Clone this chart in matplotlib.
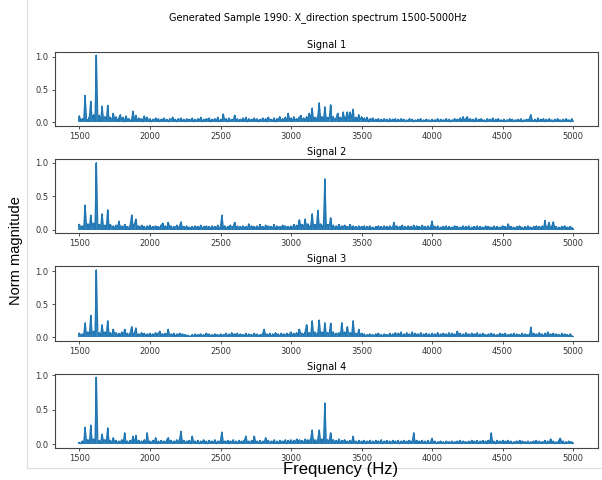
import numpy as np
import matplotlib
matplotlib.use("Agg")
import matplotlib.pyplot as plt
from matplotlib.lines import Line2D

# Spectrum samples every 10 Hz from 1500 to 5000 Hz (one row = 250 Hz)
step_hz = 10
start_hz = 1500

signal1 = [
    0.10, 0.02, 0.06, 0.03, 0.41, 0.05, 0.02, 0.08, 0.32, 0.04, 0.12, 0.03, 1.02, 0.05, 0.11, 0.02, 0.25, 0.06, 0.09, 0.03, 0.26, 0.05, 0.08, 0.02, 0.14,
    0.04, 0.09, 0.02, 0.07, 0.12, 0.03, 0.08, 0.01, 0.10, 0.04, 0.06, 0.02, 0.05, 0.17, 0.03, 0.11, 0.02, 0.07, 0.04, 0.06, 0.01, 0.10, 0.03, 0.08, 0.02,
    0.06, 0.01, 0.05, 0.03, 0.07, 0.02, 0.06, 0.01, 0.05, 0.04, 0.07, 0.02, 0.05, 0.01, 0.06, 0.03, 0.08, 0.02, 0.05, 0.01, 0.06, 0.03, 0.07, 0.02, 0.05,
    0.01, 0.06, 0.02, 0.05, 0.03, 0.07, 0.01, 0.05, 0.02, 0.06, 0.03, 0.08, 0.01, 0.05, 0.02, 0.06, 0.04, 0.07, 0.01, 0.05, 0.03, 0.06, 0.02, 0.08, 0.01,
    0.05, 0.02, 0.13, 0.03, 0.06, 0.01, 0.07, 0.02, 0.05, 0.03, 0.11, 0.02, 0.06, 0.01, 0.05, 0.03, 0.07, 0.02, 0.08, 0.01, 0.06, 0.03, 0.05, 0.02, 0.07,
    0.02, 0.06, 0.01, 0.05, 0.03, 0.07, 0.02, 0.06, 0.01, 0.08, 0.03, 0.05, 0.02, 0.07, 0.01, 0.06, 0.04, 0.09, 0.02, 0.06, 0.03, 0.08, 0.02, 0.14, 0.04,
    0.07, 0.02, 0.09, 0.03, 0.06, 0.02, 0.08, 0.11, 0.03, 0.07, 0.02, 0.09, 0.04, 0.14, 0.05, 0.22, 0.03, 0.08, 0.04, 0.10, 0.30, 0.05, 0.09, 0.03, 0.24,
    0.04, 0.08, 0.03, 0.27, 0.05, 0.09, 0.03, 0.07, 0.14, 0.04, 0.08, 0.03, 0.16, 0.05, 0.09, 0.16, 0.04, 0.16, 0.06, 0.20, 0.03, 0.08, 0.04, 0.12, 0.03,
    0.09, 0.02, 0.07, 0.03, 0.08, 0.01, 0.06, 0.04, 0.07, 0.02, 0.05, 0.03, 0.06, 0.01, 0.05, 0.02, 0.06, 0.03, 0.05, 0.01, 0.06, 0.02, 0.05, 0.03, 0.06,
    0.01, 0.05, 0.02, 0.06, 0.03, 0.05, 0.01, 0.04, 0.02, 0.06, 0.03, 0.05, 0.01, 0.04, 0.02, 0.05, 0.03, 0.06, 0.01, 0.04, 0.02, 0.05, 0.03, 0.04, 0.01,
    0.05, 0.02, 0.04, 0.03, 0.06, 0.01, 0.05, 0.02, 0.04, 0.03, 0.06, 0.02, 0.05, 0.01, 0.04, 0.03, 0.06, 0.02, 0.05, 0.03, 0.07, 0.02, 0.09, 0.03, 0.06,
    0.09, 0.02, 0.06, 0.03, 0.05, 0.01, 0.07, 0.02, 0.05, 0.03, 0.06, 0.02, 0.04, 0.01, 0.06, 0.03, 0.05, 0.02, 0.07, 0.01, 0.05, 0.03, 0.06, 0.02, 0.04,
    0.02, 0.05, 0.01, 0.04, 0.03, 0.06, 0.02, 0.05, 0.01, 0.04, 0.03, 0.05, 0.02, 0.06, 0.01, 0.04, 0.03, 0.05, 0.02, 0.06, 0.12, 0.04, 0.02, 0.05, 0.01,
    0.07, 0.02, 0.05, 0.03, 0.06, 0.01, 0.05, 0.02, 0.06, 0.03, 0.04, 0.01, 0.05, 0.02, 0.06, 0.03, 0.04, 0.01, 0.05, 0.02, 0.06, 0.03, 0.04, 0.01, 0.06,
    0.02,
]

signal2 = [
    0.08, 0.03, 0.06, 0.02, 0.37, 0.05, 0.09, 0.03, 0.22, 0.06, 0.10, 0.02, 1.00, 0.04, 0.08, 0.03, 0.24, 0.05, 0.07, 0.02, 0.30, 0.04, 0.08, 0.03, 0.06,
    0.02, 0.07, 0.04, 0.13, 0.03, 0.06, 0.01, 0.08, 0.03, 0.05, 0.02, 0.07, 0.22, 0.04, 0.09, 0.16, 0.03, 0.06, 0.02, 0.07, 0.04, 0.05, 0.01, 0.06, 0.03,
    0.07, 0.02, 0.05, 0.03, 0.06, 0.01, 0.05, 0.02, 0.07, 0.10, 0.03, 0.06, 0.02, 0.11, 0.04, 0.06, 0.01, 0.05, 0.03, 0.07, 0.02, 0.06, 0.12, 0.03, 0.05,
    0.02, 0.06, 0.01, 0.04, 0.02, 0.05, 0.01, 0.06, 0.03, 0.05, 0.02, 0.07, 0.01, 0.05, 0.03, 0.06, 0.02, 0.05, 0.01, 0.06, 0.03, 0.05, 0.02, 0.07, 0.01,
    0.05, 0.22, 0.03, 0.06, 0.01, 0.05, 0.02, 0.07, 0.03, 0.05, 0.11, 0.02, 0.06, 0.01, 0.05, 0.03, 0.06, 0.02, 0.05, 0.01, 0.09, 0.03, 0.06, 0.02, 0.05,
    0.02, 0.06, 0.01, 0.08, 0.03, 0.05, 0.02, 0.07, 0.01, 0.06, 0.03, 0.05, 0.02, 0.08, 0.01, 0.06, 0.03, 0.05, 0.02, 0.07, 0.01, 0.06, 0.03, 0.05, 0.02,
    0.06, 0.02, 0.08, 0.03, 0.07, 0.02, 0.15, 0.04, 0.08, 0.03, 0.16, 0.05, 0.09, 0.03, 0.07, 0.24, 0.04, 0.08, 0.03, 0.29, 0.05, 0.09, 0.04, 0.07, 0.76,
    0.05, 0.08, 0.03, 0.18, 0.04, 0.07, 0.02, 0.06, 0.03, 0.08, 0.02, 0.06, 0.04, 0.07, 0.02, 0.05, 0.03, 0.08, 0.02, 0.06, 0.03, 0.05, 0.01, 0.06, 0.03,
    0.05, 0.02, 0.06, 0.01, 0.05, 0.03, 0.06, 0.02, 0.04, 0.01, 0.05, 0.03, 0.06, 0.02, 0.05, 0.01, 0.06, 0.03, 0.05, 0.02, 0.06, 0.03, 0.04, 0.11, 0.03,
    0.06, 0.02, 0.05, 0.03, 0.07, 0.01, 0.05, 0.02, 0.06, 0.03, 0.05, 0.02, 0.07, 0.01, 0.06, 0.03, 0.05, 0.02, 0.07, 0.03, 0.05, 0.01, 0.06, 0.02, 0.05,
    0.13, 0.03, 0.05, 0.02, 0.06, 0.01, 0.04, 0.02, 0.05, 0.03, 0.06, 0.01, 0.05, 0.02, 0.04, 0.03, 0.06, 0.02, 0.05, 0.01, 0.04, 0.03, 0.06, 0.02, 0.05,
    0.02, 0.06, 0.01, 0.04, 0.03, 0.05, 0.02, 0.06, 0.01, 0.05, 0.03, 0.04, 0.02, 0.06, 0.01, 0.05, 0.03, 0.04, 0.02, 0.06, 0.01, 0.05, 0.02, 0.04, 0.03,
    0.06, 0.02, 0.05, 0.01, 0.09, 0.03, 0.05, 0.02, 0.04, 0.01, 0.05, 0.03, 0.06, 0.02, 0.04, 0.01, 0.05, 0.02, 0.06, 0.03, 0.04, 0.01, 0.05, 0.02, 0.06,
    0.03, 0.05, 0.02, 0.06, 0.01, 0.14, 0.03, 0.05, 0.11, 0.02, 0.06, 0.12, 0.03, 0.05, 0.01, 0.04, 0.02, 0.05, 0.03, 0.06, 0.01, 0.04, 0.02, 0.05, 0.03,
    0.02,
]

signal3 = [
    0.06, 0.02, 0.05, 0.03, 0.22, 0.04, 0.08, 0.02, 0.33, 0.05, 0.09, 0.03, 1.02, 0.04, 0.07, 0.02, 0.19, 0.05, 0.08, 0.03, 0.25, 0.04, 0.07, 0.02, 0.12,
    0.04, 0.07, 0.02, 0.06, 0.03, 0.08, 0.02, 0.12, 0.04, 0.06, 0.02, 0.07, 0.16, 0.03, 0.06, 0.14, 0.02, 0.05, 0.03, 0.07, 0.01, 0.06, 0.02, 0.05, 0.03,
    0.06, 0.02, 0.05, 0.03, 0.07, 0.02, 0.06, 0.09, 0.03, 0.05, 0.02, 0.06, 0.03, 0.12, 0.02, 0.05, 0.03, 0.06, 0.01, 0.05, 0.03, 0.06, 0.02, 0.05, 0.03,
    0.04, 0.02, 0.03, 0.01, 0.02, 0.04, 0.01, 0.05, 0.02, 0.04, 0.03, 0.05, 0.01, 0.04, 0.02, 0.06, 0.03, 0.05, 0.01, 0.04, 0.02, 0.05, 0.03, 0.04, 0.01,
    0.05, 0.02, 0.04, 0.03, 0.06, 0.01, 0.05, 0.02, 0.07, 0.03, 0.05, 0.02, 0.06, 0.01, 0.05, 0.03, 0.04, 0.02, 0.06, 0.01, 0.05, 0.03, 0.04, 0.02, 0.06,
    0.02, 0.05, 0.01, 0.04, 0.03, 0.06, 0.12, 0.03, 0.05, 0.02, 0.06, 0.01, 0.05, 0.03, 0.07, 0.02, 0.05, 0.01, 0.06, 0.03, 0.05, 0.02, 0.06, 0.03, 0.05,
    0.08, 0.02, 0.06, 0.03, 0.07, 0.02, 0.12, 0.04, 0.06, 0.03, 0.08, 0.19, 0.04, 0.07, 0.03, 0.25, 0.05, 0.08, 0.03, 0.07, 0.26, 0.04, 0.08, 0.03, 0.22,
    0.04, 0.07, 0.03, 0.21, 0.05, 0.08, 0.02, 0.06, 0.04, 0.07, 0.03, 0.22, 0.05, 0.08, 0.03, 0.16, 0.04, 0.07, 0.03, 0.25, 0.05, 0.06, 0.02, 0.12, 0.03,
    0.06, 0.02, 0.05, 0.01, 0.04, 0.03, 0.05, 0.02, 0.04, 0.01, 0.05, 0.03, 0.06, 0.02, 0.04, 0.01, 0.05, 0.03, 0.04, 0.02, 0.06, 0.01, 0.05, 0.03, 0.07,
    0.02, 0.06, 0.03, 0.08, 0.01, 0.05, 0.02, 0.07, 0.03, 0.05, 0.02, 0.08, 0.01, 0.06, 0.03, 0.05, 0.02, 0.07, 0.01, 0.05, 0.03, 0.06, 0.02, 0.05, 0.01,
    0.06, 0.02, 0.05, 0.03, 0.07, 0.01, 0.05, 0.02, 0.06, 0.03, 0.05, 0.02, 0.07, 0.01, 0.06, 0.03, 0.05, 0.02, 0.09, 0.03, 0.06, 0.01, 0.05, 0.02, 0.07,
    0.03, 0.05, 0.01, 0.06, 0.02, 0.05, 0.03, 0.07, 0.01, 0.05, 0.02, 0.06, 0.03, 0.04, 0.01, 0.05, 0.02, 0.06, 0.03, 0.05, 0.01, 0.04, 0.02, 0.06, 0.03,
    0.05, 0.02, 0.06, 0.01, 0.04, 0.03, 0.05, 0.02, 0.06, 0.01, 0.05, 0.03, 0.04, 0.02, 0.06, 0.01, 0.05, 0.03, 0.04, 0.02, 0.15, 0.03, 0.06, 0.02, 0.05,
    0.02, 0.07, 0.03, 0.05, 0.01, 0.06, 0.02, 0.08, 0.03, 0.05, 0.01, 0.06, 0.02, 0.05, 0.03, 0.04, 0.01, 0.06, 0.02, 0.05, 0.03, 0.04, 0.01, 0.05, 0.02,
    0.01,
]

signal4 = [
    0.03, 0.01, 0.05, 0.02, 0.25, 0.04, 0.07, 0.02, 0.28, 0.05, 0.08, 0.03, 0.97, 0.04, 0.06, 0.02, 0.15, 0.05, 0.07, 0.03, 0.24, 0.04, 0.06, 0.02, 0.10,
    0.03, 0.06, 0.02, 0.05, 0.03, 0.07, 0.01, 0.17, 0.03, 0.05, 0.02, 0.06, 0.04, 0.12, 0.02, 0.13, 0.03, 0.06, 0.02, 0.05, 0.03, 0.07, 0.01, 0.17, 0.03,
    0.05, 0.02, 0.06, 0.03, 0.10, 0.01, 0.05, 0.02, 0.06, 0.03, 0.05, 0.02, 0.07, 0.10, 0.03, 0.06, 0.02, 0.05, 0.03, 0.07, 0.02, 0.08, 0.19, 0.03, 0.06,
    0.02, 0.05, 0.03, 0.06, 0.01, 0.12, 0.03, 0.05, 0.02, 0.06, 0.01, 0.05, 0.03, 0.07, 0.02, 0.05, 0.01, 0.06, 0.03, 0.05, 0.02, 0.07, 0.01, 0.05, 0.03,
    0.06, 0.18, 0.03, 0.05, 0.02, 0.06, 0.01, 0.05, 0.03, 0.07, 0.02, 0.05, 0.01, 0.06, 0.03, 0.05, 0.02, 0.06, 0.12, 0.03, 0.05, 0.01, 0.06, 0.02, 0.12,
    0.03, 0.05, 0.02, 0.06, 0.01, 0.05, 0.03, 0.10, 0.02, 0.06, 0.01, 0.05, 0.03, 0.07, 0.02, 0.05, 0.01, 0.06, 0.03, 0.05, 0.02, 0.07, 0.01, 0.06, 0.03,
    0.07, 0.02, 0.06, 0.03, 0.08, 0.02, 0.07, 0.03, 0.06, 0.02, 0.08, 0.04, 0.07, 0.03, 0.09, 0.21, 0.04, 0.07, 0.03, 0.08, 0.21, 0.05, 0.08, 0.03, 0.60,
    0.04, 0.07, 0.03, 0.17, 0.05, 0.07, 0.02, 0.06, 0.03, 0.08, 0.02, 0.06, 0.04, 0.07, 0.02, 0.05, 0.03, 0.06, 0.02, 0.12, 0.03, 0.05, 0.01, 0.06, 0.02,
    0.05, 0.02, 0.06, 0.01, 0.05, 0.03, 0.06, 0.02, 0.05, 0.01, 0.06, 0.03, 0.05, 0.02, 0.07, 0.01, 0.05, 0.03, 0.06, 0.02, 0.05, 0.01, 0.06, 0.03, 0.05,
    0.02, 0.06, 0.01, 0.05, 0.03, 0.06, 0.02, 0.05, 0.01, 0.06, 0.03, 0.05, 0.17, 0.02, 0.06, 0.01, 0.05, 0.03, 0.06, 0.02, 0.05, 0.01, 0.06, 0.02, 0.04,
    0.09, 0.02, 0.05, 0.01, 0.04, 0.03, 0.05, 0.02, 0.04, 0.01, 0.05, 0.03, 0.04, 0.02, 0.05, 0.01, 0.04, 0.03, 0.05, 0.02, 0.06, 0.01, 0.05, 0.03, 0.04,
    0.02, 0.05, 0.01, 0.06, 0.03, 0.05, 0.02, 0.06, 0.01, 0.05, 0.03, 0.06, 0.02, 0.05, 0.01, 0.06, 0.03, 0.17, 0.02, 0.05, 0.01, 0.06, 0.03, 0.05, 0.02,
    0.06, 0.01, 0.05, 0.03, 0.06, 0.02, 0.05, 0.01, 0.04, 0.03, 0.05, 0.02, 0.06, 0.01, 0.05, 0.03, 0.04, 0.02, 0.05, 0.01, 0.04, 0.03, 0.05, 0.02, 0.06,
    0.01, 0.05, 0.02, 0.04, 0.03, 0.06, 0.01, 0.05, 0.02, 0.08, 0.03, 0.05, 0.01, 0.04, 0.02, 0.06, 0.09, 0.03, 0.05, 0.01, 0.04, 0.02, 0.05, 0.03, 0.04,
    0.02,
]

signals = [signal1, signal2, signal3, signal4]
titles = ["Signal 1", "Signal 2", "Signal 3", "Signal 4"]
xticks = [1500, 2000, 2500, 3000, 3500, 4000, 4500, 5000]
yticks = [0.0, 0.5, 1.0]

fig, axes = plt.subplots(4, 1, figsize=(6.02, 4.8), dpi=100)
fig.subplots_adjust(left=0.091, right=0.993, top=0.892, bottom=0.067, hspace=0.45)

for ax, sig, title in zip(axes, signals, titles):
    freqs = start_hz + step_hz * np.arange(len(sig))
    # dense spectrum: each bin drawn down to zero so the noise floor reads as a band
    ax.vlines(freqs, 0, sig, color="#1f77b4", lw=1.3)
    ax.plot(freqs, sig, color="#1f77b4", lw=0.9)
    ax.set_title(title, fontsize=7, pad=3)
    ax.set_xticks(xticks)
    ax.set_yticks(yticks)
    ax.tick_params(labelsize=6, length=2.5, width=0.6, pad=2, colors="#333333")
    for sp in ax.spines.values():
        sp.set_linewidth(0.8)
        sp.set_color("#444444")

fig.suptitle("Generated Sample 1990: X_direction spectrum 1500-5000Hz", fontsize=7,
             x=0.527, y=0.975)
fig.text(0.027, 0.477, "Norm magnitude", rotation=90, ha="center", va="center", fontsize=10.5,
         family="Liberation Sans")
fig.text(0.566, 0.021, "Frequency (Hz)", ha="center", va="center", fontsize=12,
         family="Liberation Sans")

# faint frame lines around the notebook output
fig.add_artist(Line2D([0.045, 0.045], [0.025, 1.0], color="#dddddd", lw=0.8))
fig.add_artist(Line2D([0.045, 1.0], [0.025, 0.025], color="#dddddd", lw=0.8))

fig.savefig("out.png", dpi=100)
